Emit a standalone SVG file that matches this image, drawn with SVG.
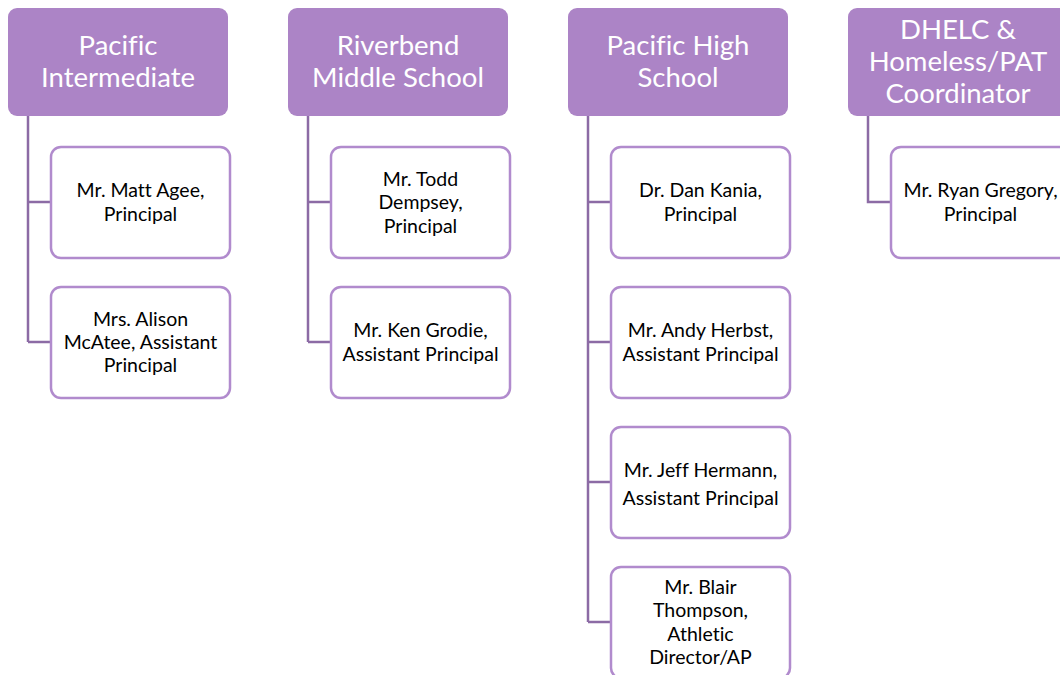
<svg xmlns="http://www.w3.org/2000/svg" width="1060" height="675" viewBox="0 0 1060 675">
<style>
.hd{fill:#AC84C6}
.ht{fill:#fff;font-family:Lato,"Liberation Sans",sans-serif;font-size:27.5px;text-anchor:middle;font-variant-ligatures:none}
.ch{fill:#fff;stroke:#B18BCD;stroke-width:2.5}
.ct{fill:#000;font-family:Lato,"Liberation Sans",sans-serif;font-size:19.5px;text-anchor:middle;font-variant-ligatures:none}
.cn{fill:none;stroke:#8C6BA5;stroke-width:2.5}
</style>
<rect width="1060" height="675" fill="#fff"/>
<g id="connectors">
<path class="cn" d="M28,116 V342 M28,202 H51 M28,342 H51"/>
<path class="cn" d="M308,116 V342 M308,202 H331 M308,342 H331"/>
<path class="cn" d="M588,116 V622 M588,202 H611 M588,342 H611 M588,482 H611 M588,622 H611"/>
<path class="cn" d="M868,116 V202 H891"/>
</g>
<g id="h1"><rect class="hd" x="8" y="8" width="220" height="108" rx="9"/><text class="ht" x="118" y="55">Pacific</text><text class="ht" x="118" y="87">Intermediate</text></g>
<g id="h2"><rect class="hd" x="288" y="8" width="220" height="108" rx="9"/><text class="ht" x="398" y="55">Riverbend</text><text class="ht" x="398" y="87">Middle School</text></g>
<g id="h3"><rect class="hd" x="568" y="8" width="220" height="108" rx="9"/><text class="ht" x="678" y="55">Pacific High</text><text class="ht" x="678" y="87">School</text></g>
<g id="h4"><rect class="hd" x="848" y="8" width="220" height="108" rx="9"/><text class="ht" x="958" y="39">DHELC &amp;</text><text class="ht" x="958" y="71">Homeless/PAT</text><text class="ht" x="958" y="103">Coordinator</text></g>
<g id="c1a"><rect class="ch" x="51" y="147" width="179" height="111" rx="10"/><text class="ct" x="140.5" y="197">Mr. Matt Agee,</text><text class="ct" x="140.5" y="221">Principal</text></g>
<g id="c1b"><rect class="ch" x="51" y="287" width="179" height="111" rx="10"/><text class="ct" x="140.5" y="326">Mrs. Alison</text><text class="ct" x="140.5" y="349">McAtee, Assistant</text><text class="ct" x="140.5" y="372">Principal</text></g>
<g id="c2a"><rect class="ch" x="331" y="147" width="179" height="111" rx="10"/><text class="ct" x="420.5" y="186">Mr. Todd</text><text class="ct" x="420.5" y="209">Dempsey,</text><text class="ct" x="420.5" y="233">Principal</text></g>
<g id="c2b"><rect class="ch" x="331" y="287" width="179" height="111" rx="10"/><text class="ct" x="420.5" y="337">Mr. Ken Grodie,</text><text class="ct" x="420.5" y="361">Assistant Principal</text></g>
<g id="c3a"><rect class="ch" x="611" y="147" width="179" height="111" rx="10"/><text class="ct" x="700.5" y="197">Dr. Dan Kania,</text><text class="ct" x="700.5" y="221">Principal</text></g>
<g id="c3b"><rect class="ch" x="611" y="287" width="179" height="111" rx="10"/><text class="ct" x="700.5" y="337">Mr. Andy Herbst,</text><text class="ct" x="700.5" y="361">Assistant Principal</text></g>
<g id="c3c"><rect class="ch" x="611" y="427" width="179" height="111" rx="10"/><text class="ct" x="700.5" y="477">Mr. Jeff Hermann,</text><text class="ct" x="700.5" y="505">Assistant Principal</text></g>
<g id="c3d"><rect class="ch" x="611" y="567" width="179" height="111" rx="10"/><text class="ct" x="700.5" y="594">Mr. Blair</text><text class="ct" x="700.5" y="617">Thompson,</text><text class="ct" x="700.5" y="641">Athletic</text><text class="ct" x="700.5" y="664">Director/AP</text></g>
<g id="c4a"><rect class="ch" x="891" y="147" width="179" height="111" rx="10"/><text class="ct" x="980.5" y="197">Mr. Ryan Gregory,</text><text class="ct" x="980.5" y="221">Principal</text></g>
</svg>
